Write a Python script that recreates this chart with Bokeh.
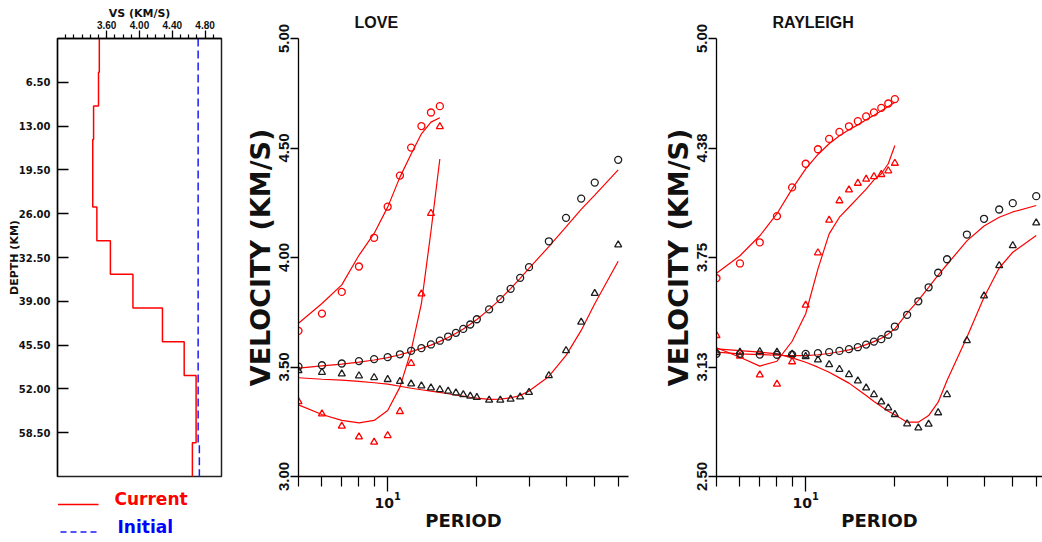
from bokeh.plotting import figure
from bokeh.layouts import row, column
from bokeh.models import Range1d, FixedTicker, PrintfTickFormatter, LogTickFormatter
from bokeh.core.properties import value
from bokeh.embed import file_html
from bokeh.resources import INLINE

# ---------------- data ----------------
# Shear-velocity model (depth of layer tops, km; Vs km/s)
model_tops = [0, 5, 10, 15, 25, 30, 35, 40, 45, 50, 60]
vs_current = [3.51, 3.50, 3.44, 3.43, 3.48, 3.645, 3.92, 4.28, 4.545, 4.69, 4.645]
initial_tops = [0, 60]
vs_initial = [4.715, 4.73]
model_base = 66

vs_major_ticks = [3.6, 4.0, 4.4, 4.8]
vs_minor_ticks = [3.1, 3.2, 3.3, 3.4, 3.5, 3.7, 3.8, 3.9, 4.1, 4.2, 4.3, 4.5, 4.6, 4.7, 4.9]
depth_ticks = [6.5, 13.0, 19.5, 26.0, 32.5, 39.0, 45.5, 52.0, 58.5]

period_major = [10]
period_minor = [5, 6, 7, 8, 9, 20, 30, 40, 50, 60]
love_vel_ticks = [3.0, 3.5, 4.0, 4.5, 5.0]
ray_vel_ticks = [2.5, 3.125, 3.75, 4.375, 5.0]

# LOVE
love_p_short = [5, 6, 7, 8, 9, 10, 11, 12, 13, 14, 15]
love_red_circ_obs = [3.665, 3.744, 3.843, 3.959, 4.09, 4.232, 4.374, 4.502, 4.600, 4.662, 4.691]
love_red_circ_fit = [3.70, 3.79, 3.875, 4.01, 4.11, 4.23, 4.367, 4.473, 4.565, 4.618, 4.638]
love_red_tri_obs = [3.342, 3.286, 3.23, 3.181, 3.157, 3.187, 3.297, 3.517, 3.834, 4.202, 4.598]
love_red_tri_fit = [3.327, 3.283, 3.256, 3.245, 3.256, 3.301, 3.408, 3.575, 3.79, 4.12, 4.45]

love_p_long = [5, 6, 7, 8, 9, 10, 11, 12, 13, 14, 15, 16, 17, 18, 19, 20, 22, 24, 26, 28, 30, 35, 40, 45, 50, 60]
love_blk_circ_obs = [3.502, 3.508, 3.516, 3.527, 3.536, 3.545, 3.558, 3.574, 3.586, 3.603, 3.62, 3.639, 3.656,
                     3.674, 3.694, 3.718, 3.763, 3.81, 3.857, 3.907, 3.956, 4.074, 4.181, 4.269, 4.342, 4.446]
love_blk_circ_fit = [3.495, 3.505, 3.513, 3.522, 3.532, 3.543, 3.556, 3.57, 3.585, 3.60, 3.617, 3.635, 3.654,
                     3.674, 3.695, 3.717, 3.763, 3.81, 3.858, 3.905, 3.95, 4.05, 4.14, 4.22, 4.285, 4.40]
love_blk_tri_obs = [3.484, 3.476, 3.469, 3.46, 3.452, 3.443, 3.434, 3.423, 3.414, 3.405, 3.397, 3.39, 3.382,
                    3.374, 3.367, 3.361, 3.349, 3.349, 3.353, 3.364, 3.384, 3.461, 3.575, 3.705, 3.836, 4.058]
love_blk_tri_fit = [3.451, 3.444, 3.44, 3.434, 3.428, 3.422, 3.412, 3.403, 3.396, 3.39, 3.384, 3.378, 3.371,
                    3.367, 3.362, 3.358, 3.352, 3.353, 3.359, 3.37, 3.39, 3.457, 3.553, 3.667, 3.789, 3.983]

# RAYLEIGH
ray_p_short = [5, 6, 7, 8, 9, 10, 11, 12, 13, 14, 15, 16, 17, 18, 19, 20]
ray_red_circ_obs = [3.632, 3.716, 3.836, 3.986, 4.15, 4.285, 4.368, 4.427, 4.467, 4.499, 4.528, 4.555, 4.578,
                    4.604, 4.629, 4.654]
ray_red_circ_fit = [3.66, 3.76, 3.874, 4.0, 4.142, 4.256, 4.338, 4.399, 4.445, 4.479, 4.507, 4.536, 4.562,
                    4.587, 4.612, 4.636]
ray_red_tri_obs = [3.305, 3.187, 3.08, 3.027, 3.155, 3.478, 3.777, 3.963, 4.074, 4.136, 4.174, 4.197, 4.212,
                   4.224, 4.245, 4.288]
ray_red_tri_fit = [3.235, 3.181, 3.13, 3.158, 3.272, 3.429, 3.685, 3.885, 3.98, 4.037, 4.09, 4.14, 4.193,
                   4.228, 4.285, 4.389]

ray_p_long = [5, 6, 7, 8, 9, 10, 11, 12, 13, 14, 15, 16, 17, 18, 19, 20, 22, 24, 26, 28, 30, 35, 40, 45, 50, 60]
ray_blk_circ_obs = [3.2, 3.2, 3.196, 3.195, 3.196, 3.2, 3.204, 3.21, 3.217, 3.227, 3.238, 3.253, 3.27, 3.284,
                    3.309, 3.356, 3.423, 3.50, 3.58, 3.663, 3.74, 3.881, 3.971, 4.024, 4.06, 4.10]
ray_blk_circ_fit = [3.21, 3.2, 3.196, 3.192, 3.19, 3.19, 3.195, 3.202, 3.212, 3.223, 3.236, 3.253, 3.27, 3.289,
                    3.314, 3.343, 3.432, 3.505, 3.58, 3.65, 3.71, 3.845, 3.93, 3.98, 4.01, 4.047]
ray_blk_tri_obs = [3.208, 3.21, 3.213, 3.21, 3.198, 3.185, 3.166, 3.139, 3.112, 3.082, 3.046, 3.006, 2.968,
                   2.926, 2.892, 2.854, 2.801, 2.778, 2.799, 2.864, 2.968, 3.276, 3.531, 3.704, 3.818, 3.948]
ray_blk_tri_fit = [3.229, 3.219, 3.21, 3.2, 3.177, 3.152, 3.124, 3.095, 3.063, 3.033, 2.997, 2.962, 2.928,
                   2.9, 2.873, 2.852, 2.81, 2.81, 2.848, 2.924, 3.048, 3.295, 3.523, 3.69, 3.78, 3.875]

# ---------------- styling helpers ----------------
TICK_FONT = "Liberation Sans"
LABEL_FONT = "DejaVu Sans"
RED = "#ff0000"
BLK = "#1e1e1e"
BLUE = "#1a1aff"


def step_profile(tops, vs, base):
    bounds = list(tops) + [base]
    xs, ys = [], []
    for i, v in enumerate(vs):
        xs += [v, v]
        ys += [bounds[i], bounds[i + 1]]
    return xs, ys


def base_fig(**kw):
    p = figure(output_backend="svg", toolbar_location=None, **kw)
    p.grid.visible = False
    p.background_fill_color = "white"
    p.border_fill_color = "white"
    return p


def style_axis(ax, tick_font, tick_size, label_font, label_size):
    ax.axis_line_color = "black"
    ax.axis_line_width = 1.3
    ax.major_tick_line_color = "black"
    ax.major_tick_line_width = 1.3
    ax.minor_tick_line_color = "black"
    ax.minor_tick_line_width = 1.2
    ax.major_label_text_font = tick_font
    ax.major_label_text_font_size = tick_size
    ax.major_label_text_font_style = "bold"
    ax.major_label_text_color = "#111111"
    ax.axis_label_text_font = label_font
    ax.axis_label_text_font_size = label_size
    ax.axis_label_text_font_style = "bold"
    ax.axis_label_text_color = "#111111"


TOP = 38          # frame top (px from page top)
FRAME_H = 438     # frame height
TOTAL_H = 540
A_LEFT, A_RIGHT = 57, 221   # frame of the model panel (page px)
A_WIDTH = 240
A_HEIGHT = 484

# ---------------- panel A: velocity model ----------------
fA = base_fig(width=A_WIDTH, height=A_HEIGHT, x_range=Range1d(3.0, 5.0), y_range=Range1d(65, 0),
              x_axis_location="above",
              min_border_left=A_LEFT, min_border_right=A_WIDTH - A_RIGHT, min_border_top=TOP,
              min_border_bottom=A_HEIGHT - TOP - FRAME_H)
fA.outline_line_color = "#222222"
fA.outline_line_width = 1.5

xa = fA.xaxis[0]
xa.ticker = FixedTicker(ticks=vs_major_ticks, minor_ticks=vs_minor_ticks)
xa.formatter = PrintfTickFormatter(format="%.2f")
style_axis(xa, TICK_FONT, "10px", LABEL_FONT, "11px")
xa.major_tick_out = 8
xa.major_tick_in = 0
xa.minor_tick_out = 4
xa.minor_tick_in = 0
xa.major_label_standoff = 2
xa.axis_label = "VS (KM/S)"
xa.axis_label_standoff = -2

ya = fA.yaxis[0]
ya.ticker = FixedTicker(ticks=depth_ticks)
ya.formatter = PrintfTickFormatter(format="%.2f")
style_axis(ya, LABEL_FONT, "10px", LABEL_FONT, "11px")
ya.major_tick_in = 11
ya.major_tick_out = 0
ya.minor_tick_line_color = None
ya.major_label_standoff = 7
ya.axis_label = "DEPTH (KM)"
ya.axis_label_standoff = -5

cx, cy = step_profile(model_tops, vs_current, model_base)
ix, iy = step_profile(initial_tops, vs_initial, model_base)
fA.line(ix, iy, line_color=BLUE, line_width=1.5, line_dash="8 4")
fA.line(cx, cy, line_color=RED, line_width=1.5)

# ---------------- legend under panel A (page-pixel coordinates) ----------------
LEG_Y0, LEG_Y1 = A_HEIGHT, TOTAL_H
fL = base_fig(width=A_WIDTH, height=LEG_Y1 - LEG_Y0, x_range=Range1d(A_LEFT, A_RIGHT),
              y_range=Range1d(LEG_Y1, LEG_Y0),
              x_axis_location=None, y_axis_location=None,
              min_border_left=A_LEFT, min_border_right=A_WIDTH - A_RIGHT, min_border_top=0, min_border_bottom=0)
fL.outline_line_color = None
leg_current_line = ([57.5, 98], [504, 504])
leg_initial_line = ([60, 98], [531.5, 531.5])
fL.line(*leg_current_line, line_color=RED, line_width=1.5)
fL.line(*leg_initial_line, line_color=BLUE, line_width=1.5, line_dash="6 4")
fL.text(x=[114], y=[498.5], text=["Current"], text_color=RED, text_font=value(LABEL_FONT),
        text_font_style="bold", text_font_size="17px", text_baseline="middle")
fL.text(x=[117], y=[526], text=["Initial"], text_color="#0000ff", text_font=value(LABEL_FONT),
        text_font_style="bold", text_font_size="17px", text_baseline="middle")


# ---------------- dispersion panels ----------------
def disp_fig(width, left, right, xmax, ymin, yticks, title, title_offset):
    p = base_fig(width=width, height=TOTAL_H, x_axis_type="log", x_range=Range1d(5, xmax),
                 y_range=Range1d(ymin, 5.0), title=title,
                 min_border_left=left, min_border_right=right, min_border_top=TOP,
                 min_border_bottom=TOTAL_H - TOP - FRAME_H)
    p.outline_line_color = None
    p.title.align = "left"
    p.title.offset = title_offset
    p.title.standoff = 15
    p.title.text_font = TICK_FONT
    p.title.text_font_size = "16px"
    p.title.text_font_style = "bold"
    p.title.text_color = "#111111"

    xa = p.xaxis[0]
    xa.ticker = FixedTicker(ticks=period_major, minor_ticks=period_minor)
    xa.formatter = LogTickFormatter()
    style_axis(xa, LABEL_FONT, "14px", LABEL_FONT, "18px")
    xa.major_tick_out = 15
    xa.major_tick_in = 0
    xa.minor_tick_out = 10
    xa.minor_tick_in = 0
    xa.major_label_standoff = 0
    xa.axis_label = "PERIOD"
    xa.axis_label_standoff = -1

    ya = p.yaxis[0]
    ya.ticker = FixedTicker(ticks=yticks)
    ya.formatter = PrintfTickFormatter(format="%.2f")
    style_axis(ya, TICK_FONT, "15px", LABEL_FONT, "27px")
    ya.major_label_orientation = "vertical"
    ya.major_tick_out = 8
    ya.major_tick_in = 0
    ya.minor_tick_line_color = None
    ya.major_label_standoff = 2
    ya.axis_label = "VELOCITY (KM/S)"
    ya.axis_label_standoff = 0
    return p


def add_series(p, periods, obs, fit, marker, color):
    p.line(periods, fit, line_color=RED, line_width=1.2)
    p.scatter(periods, obs, marker=marker, size=7, fill_color=None, line_color=color, line_width=1.3)


fB = disp_fig(406, 58, 18, 65, 3.0, love_vel_ticks, "LOVE", 56)
add_series(fB, love_p_short, love_red_circ_obs, love_red_circ_fit, "circle", RED)
add_series(fB, love_p_short, love_red_tri_obs, love_red_tri_fit, "triangle", RED)
add_series(fB, love_p_long, love_blk_circ_obs, love_blk_circ_fit, "circle", BLK)
add_series(fB, love_p_long, love_blk_tri_obs, love_blk_tri_fit, "triangle", BLK)

fC = disp_fig(396, 70, 0, 63, 2.5, ray_vel_ticks, "RAYLEIGH", 56)
add_series(fC, ray_p_short, ray_red_circ_obs, ray_red_circ_fit, "circle", RED)
add_series(fC, ray_p_short, ray_red_tri_obs, ray_red_tri_fit, "triangle", RED)
add_series(fC, ray_p_long, ray_blk_circ_obs, ray_blk_circ_fit, "circle", BLK)
add_series(fC, ray_p_long, ray_blk_tri_obs, ray_blk_tri_fit, "triangle", BLK)

layout = row(column(fA, fL, spacing=0), fB, fC, spacing=0)
open("out.html", "w").write(file_html(layout, INLINE))
